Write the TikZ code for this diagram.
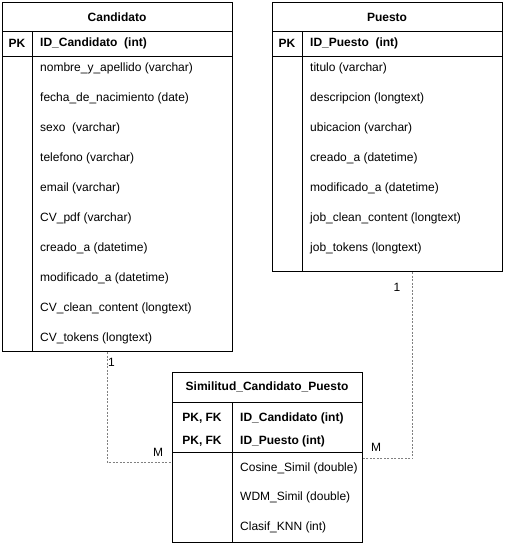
\documentclass[tikz,border=0pt]{standalone}
\usepackage{fontspec}
\setmainfont{Liberation Sans}
\usetikzlibrary{positioning}
\begin{document}
\begin{tikzpicture}[x=1pt, y=-1pt, font=\fontsize{12}{14}\selectfont,
  tabla/.style={draw, line width=1pt, inner sep=0, anchor=north west},
  titulo/.style={inner sep=0, font=\fontsize{12}{14}\selectfont\bfseries},
  clave/.style={inner sep=0, font=\fontsize{12}{14}\selectfont\bfseries},
  campo/.style={anchor=west, inner sep=0},
  relacion/.style={draw=gray, dash pattern=on 2pt off 1.5pt, line width=.7pt}]
\useasboundingbox (0,0) rectangle (505,545);
% Candidato
\node[tabla, minimum width=230pt, minimum height=349pt] (cand) at (2,2) {};
\draw[line width=1pt] ([yshift=-30pt]cand.north west) -- ([yshift=-30pt]cand.north east);
\draw[line width=1pt] ([yshift=-55pt]cand.north west) -- ([yshift=-55pt]cand.north east);
\draw[line width=1pt] ([xshift=30pt,yshift=-30pt]cand.north west) -- ([xshift=30pt]cand.south west);
\node[titulo] (candTit) at (117,17) {Candidato};
\node[clave] (candPK) at (17,43) {PK};
\node[campo, font=\fontsize{12}{14}\selectfont\bfseries] (candID) at (40,43) {ID\_Candidato\ \ (int)};
\foreach \t [count=\i] in {nombre\_y\_apellido (varchar), fecha\_de\_nacimiento (date),
  sexo\ \ (varchar), telefono (varchar), email (varchar), CV\_pdf (varchar),
  creado\_a (datetime), modificado\_a (datetime), CV\_clean\_content (longtext),
  CV\_tokens (longtext)}
{
    \node[campo] (cand\i) at (40,38+30*\i) {\t};
}
% Puesto
\node[tabla, minimum width=230pt, minimum height=269pt] (pues) at (272,2) {};
\draw[line width=1pt] ([yshift=-30pt]pues.north west) -- ([yshift=-30pt]pues.north east);
\draw[line width=1pt] ([yshift=-55pt]pues.north west) -- ([yshift=-55pt]pues.north east);
\draw[line width=1pt] ([xshift=30pt,yshift=-30pt]pues.north west) -- ([xshift=30pt]pues.south west);
\node[titulo] (puesTit) at (387,17) {Puesto};
\node[clave] (puesPK) at (287,43) {PK};
\node[campo, font=\fontsize{12}{14}\selectfont\bfseries] (puesID) at (310,43) {ID\_Puesto\ \ (int)};
\foreach \t [count=\i] in {titulo (varchar), descripcion (longtext), ubicacion (varchar),
  creado\_a (datetime), modificado\_a (datetime), job\_clean\_content (longtext),
  job\_tokens (longtext)}
{
    \node[campo] (pues\i) at (310,38+30*\i) {\t};
}
% Similitud_Candidato_Puesto
\node[tabla, minimum width=190pt, minimum height=170pt] (simi) at (172,372) {};
\draw[line width=1pt] ([yshift=-30pt]simi.north west) -- ([yshift=-30pt]simi.north east);
\draw[line width=1pt] ([yshift=-80pt]simi.north west) -- ([yshift=-80pt]simi.north east);
\draw[line width=1pt] ([xshift=60pt,yshift=-30pt]simi.north west) -- ([xshift=60pt]simi.south west);
\node[titulo] (simiTit) at (267,387) {Similitud\_Candidato\_Puesto};
\node[clave] (simiPK1) at (202,418) {PK, FK};
\node[clave] (simiPK2) at (202,441) {PK, FK};
\node[campo, font=\fontsize{12}{14}\selectfont\bfseries] (simiID1) at (240,418) {ID\_Candidato (int)};
\node[campo, font=\fontsize{12}{14}\selectfont\bfseries] (simiID2) at (240,441) {ID\_Puesto (int)};
\foreach \t [count=\i] in {Cosine\_Simil (double), WDM\_Simil (double), Clasif\_KNN (int)}
{
    \node[campo] (simi\i) at (240,438.5+29.5*\i) {\t};
}
% relaciones
\draw[relacion] ([xshift=-10pt]cand.south) |- ([yshift=-5pt]simi.west);
\draw[relacion] ([xshift=25pt]pues.south) |- ([yshift=-1pt]simi.east);
\node[anchor=west, inner sep=0] (card1) at (108,362) {1};
\node[inner sep=0] (cardM1) at (158,452) {M};
\node[inner sep=0] (card2) at (397,287) {1};
\node[inner sep=0] (cardM2) at (376,447) {M};
\end{tikzpicture}
\end{document}
